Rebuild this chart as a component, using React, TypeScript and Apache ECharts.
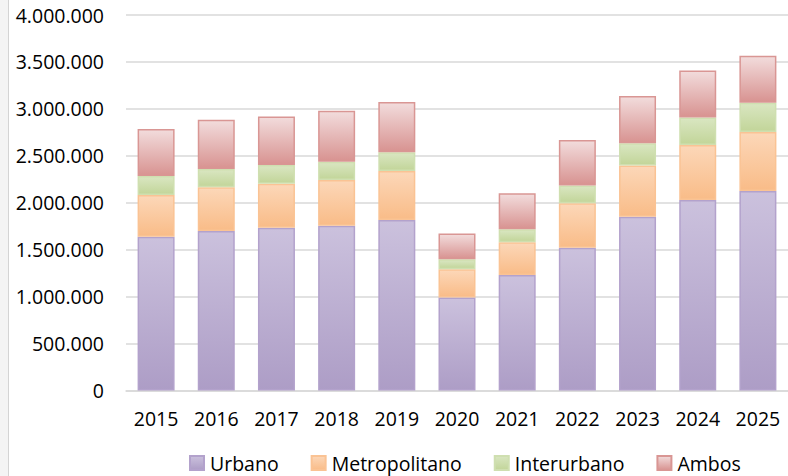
import React, { useEffect, useRef } from "react";
import * as echarts from "echarts";

const years = ["2015", "2016", "2017", "2018", "2019", "2020", "2021", "2022", "2023", "2024", "2025"];
const urbano = [1638000, 1699000, 1734000, 1755000, 1816000, 992000, 1230000, 1521000, 1851000, 2029000, 2125000];
const metropolitano = [444000, 465000, 468000, 487000, 522000, 299000, 348000, 473000, 547000, 585000, 628000];
const interurbano = [202000, 195000, 199000, 195000, 199000, 106000, 139000, 191000, 235000, 295000, 312000];
const ambos = [501000, 525000, 519000, 543000, 535000, 275000, 383000, 483000, 503000, 501000, 501000];

const FONT = "Open Sans";

function grad(top: string, bottom: string) {
  return new echarts.graphic.LinearGradient(0, 0, 0, 1, [
    { offset: 0, color: top },
    { offset: 1, color: bottom },
  ]);
}

function fmt(v: number) {
  return String(v).replace(/\B(?=(\d{3})+(?!\d))/g, ".");
}

export default function App() {
  const ref = useRef<HTMLDivElement>(null);
  useEffect(() => {
    if (!ref.current) return;
    const chart = echarts.init(ref.current, undefined, { renderer: "svg" });
    const mk = (name: string, data: number[], top: string, bottom: string, border: string) => ({
      name,
      type: "bar",
      stack: "total",
      data,
      barWidth: 37,
      itemStyle: { color: grad(top, bottom), borderColor: border, borderWidth: 1.5 },
    });
    chart.setOption({
      animation: false,
      backgroundColor: "#ffffff",
      graphic: [
        { type: "rect", shape: { x: 0, y: 0, width: 8, height: 476 }, style: { fill: "#f4f4f4" }, silent: true },
        { type: "line", shape: { x1: 8.5, y1: 0, x2: 8.5, y2: 476 }, style: { stroke: "#d4d4d4", lineWidth: 1 }, silent: true },
      ],
      grid: { left: 126, top: 15, width: 669, height: 375.5 },
      legend: {
        bottom: -2,
        left: 184,
        icon: "rect",
        itemWidth: 14,
        itemHeight: 14,
        itemGap: 32,
        textStyle: { fontFamily: FONT, fontSize: 19.5, color: "#000000", padding: [0, 0, 0, 1] },
        data: ["Urbano", "Metropolitano", "Interurbano", "Ambos"],
      },
      xAxis: {
        type: "category",
        data: years,
        axisLine: { lineStyle: { color: "#d9d9d9", width: 1.5 } },
        axisTick: { show: false },
        axisLabel: { fontFamily: FONT, fontSize: 19.5, color: "#000000", margin: 18 },
      },
      yAxis: {
        type: "value",
        min: 0,
        max: 4000000,
        interval: 500000,
        axisLine: { show: false },
        axisTick: { show: false },
        splitLine: { lineStyle: { color: "#d9d9d9", width: 1.5 } },
        axisLabel: { fontFamily: FONT, fontSize: 19.5, color: "#000000", margin: 22, formatter: (v: number) => fmt(v) },
      },
      series: [
        mk("Urbano", urbano, "#cbc1dd", "#ad9dc6", "#b3a2cc"),
        mk("Metropolitano", metropolitano, "#fcd7b8", "#f9bc88", "#fac394"),
        mk("Interurbano", interurbano, "#d9e6c1", "#c2d599", "#cfdfb0"),
        mk("Ambos", ambos, "#f2dcdc", "#d89391", "#d99694"),
      ],
    });
    return () => chart.dispose();
  }, []);
  return (
    <div
      ref={ref}
      style={{ position: "absolute", left: 0, top: 0, width: 788, height: 476, overflow: "hidden" }}
    />
  );
}
